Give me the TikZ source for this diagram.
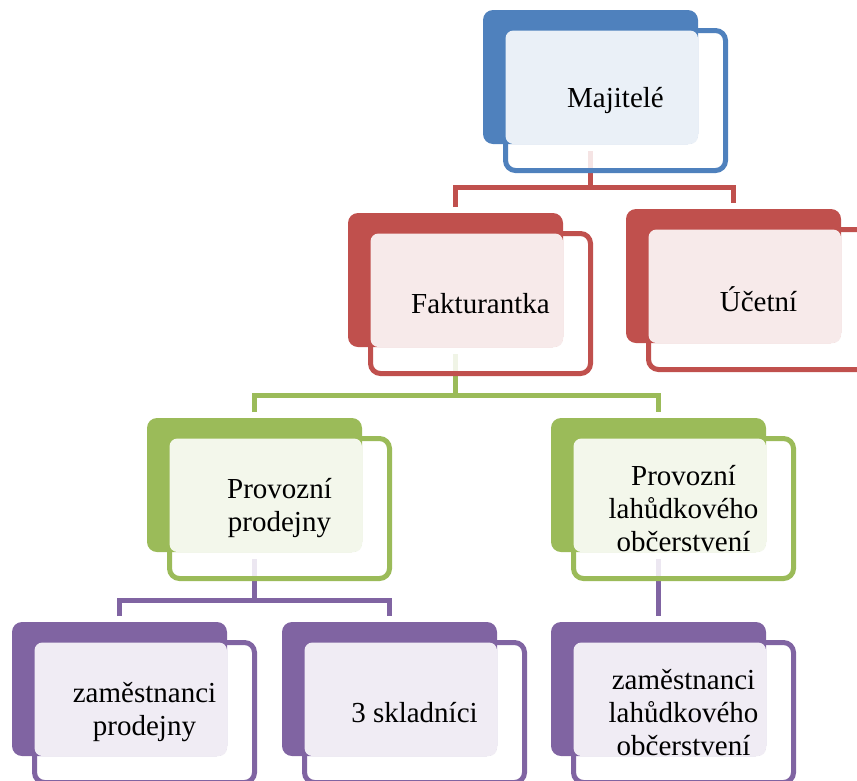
\documentclass[tikz,border=0pt]{standalone}
\usepackage{fontspec}
\setmainfont{Liberation Serif}
\usepackage{tikz}
\usetikzlibrary{positioning, calc, fit, backgrounds}
\pgfdeclarelayer{rims}
\pgfsetlayers{background,rims,main}
\definecolor{ownblue}{HTML}{4F81BD}
\definecolor{ownred}{HTML}{C0504D}
\definecolor{owngreen}{HTML}{9BBB59}
\definecolor{ownpurple}{HTML}{8064A2}
\tikzset{
  cardback/.style={rectangle, rounded corners=10pt, minimum width=215pt, minimum height=134pt, inner sep=0pt, outer sep=0pt, fill=#1, anchor=north west},
  cardrim/.style={rectangle, rounded corners=10pt, minimum width=220pt, minimum height=140pt, inner sep=0pt, outer sep=0pt, draw=#1, line width=5pt, fill=white, fill opacity=.85},
  cardface/.style={rectangle, rounded corners=8pt, inner sep=0pt, outer sep=0pt, fill=#1!12},
  cardtext/.style={align=center, inner sep=0pt, font=\fontsize{29}{33}\selectfont},
  link/.style={line width=5pt, draw=#1}
}

\begin{document}
\begin{tikzpicture}[x=1pt, y=-1pt]
    \useasboundingbox (0,0) rectangle (857,780);
    \clip (0,0) rectangle (857,780);

    \node (majB) [cardback=ownblue] at (483,10) {};
    \node (fakB) [cardback=ownred] at (348,213) {};
    \node (uceB) [cardback=ownred] at (626,209) {};
    \node (prodB) [cardback=owngreen] at (147,418) {};
    \node (lahB) [cardback=owngreen] at (551,418) {};
    \node (zamPB) [cardback=ownpurple] at (12,622) {};
    \node (sklB) [cardback=ownpurple] at (282,622) {};
    \node (zamLB) [cardback=ownpurple] at (551,622) {};

    \begin{pgfonlayer}{rims}
    \node (majR) [cardrim=ownblue, below right=20.5pt and 22.5pt of majB.north west] {};
    \node (fakR) [cardrim=ownred, below right=20.5pt and 22.5pt of fakB.north west] {};
    \node (uceR) [cardrim=ownred, below right=20.5pt and 22.5pt of uceB.north west] {};
    \node (prodR) [cardrim=owngreen, below right=20.5pt and 22.5pt of prodB.north west] {};
    \node (lahR) [cardrim=owngreen, below right=20.5pt and 22.5pt of lahB.north west] {};
    \node (zamPR) [cardrim=ownpurple, below right=20.5pt and 22.5pt of zamPB.north west] {};
    \node (sklR) [cardrim=ownpurple, below right=20.5pt and 22.5pt of sklB.north west] {};
    \node (zamLR) [cardrim=ownpurple, below right=20.5pt and 22.5pt of zamLB.north west] {};
    \end{pgfonlayer}

    \node (majF) [cardface=ownblue, fit=(majR.north west)(majB.south east)] {};
    \node (fakF) [cardface=ownred, fit=(fakR.north west)(fakB.south east)] {};
    \node (uceF) [cardface=ownred, fit=(uceR.north west)(uceB.south east)] {};
    \node (prodF) [cardface=owngreen, fit=(prodR.north west)(prodB.south east)] {};
    \node (lahF) [cardface=owngreen, fit=(lahR.north west)(lahB.south east)] {};
    \node (zamPF) [cardface=ownpurple, fit=(zamPR.north west)(zamPB.south east)] {};
    \node (sklF) [cardface=ownpurple, fit=(sklR.north west)(sklB.south east)] {};
    \node (zamLF) [cardface=ownpurple, fit=(zamLR.north west)(zamLB.south east)] {};

    \node (maj) [cardtext] at (majR.center) {Majitelé};
    \node (fak) [cardtext] at (fakR.center) {Fakturantka};
    \node (uce) [cardtext] at (uceR.center) {Účetní};
    \node (prod) [cardtext] at (prodR.center) {Provozní\\prodejny};
    \node (lah) [cardtext] at (lahR.center) {Provozní\\lahůdkového\\občerstvení};
    \node (zamP) [cardtext] at (zamPR.center) {zaměstnanci\\prodejny};
    \node (skl) [cardtext] at (sklR.center) {3 skladníci};
    \node (zamL) [cardtext] at (zamLR.center) {zaměstnanci\\lahůdkového\\občerstvení};

    \coordinate (j1) at ($(majB.south)+(0,43)$);
    \coordinate (j2) at ($(fakB.south)+(0,48)$);
    \coordinate (j3) at ($(prodB.south)+(0,48)$);

    \begin{scope}[on background layer]
    \draw [link=ownred] ($(majB.south)+(0,7)$) -- (j1);
    \draw [link=ownred] ($(fakB.north)+(0,-6)$) |- (j1) -| ($(uceB.north)+(0,-6)$);
    \draw [link=owngreen] ($(fakB.south)+(0,7)$) -- (j2);
    \draw [link=owngreen] ($(prodB.north)+(0,-6)$) |- (j2) -| ($(lahB.north)+(0,-6)$);
    \draw [link=ownpurple] ($(prodB.south)+(0,7)$) -- (j3);
    \draw [link=ownpurple] ($(zamPB.north)+(0,-6)$) |- (j3) -| ($(sklB.north)+(0,-6)$);
    \draw [link=ownpurple] ($(lahB.south)+(0,7)$) -- ($(zamLB.north)+(0,-6)$);
    \end{scope}
\end{tikzpicture}
\end{document}
